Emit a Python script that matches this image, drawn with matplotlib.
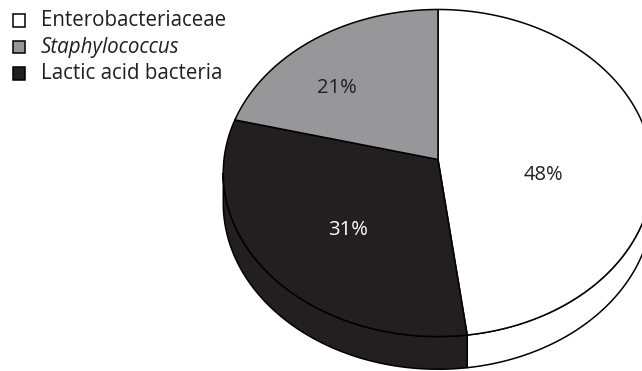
import numpy as np
import matplotlib
matplotlib.use("Agg")
import matplotlib.pyplot as plt
from matplotlib.patches import Polygon, Rectangle

# Data
categories = ["Enterobacteriaceae", "Staphylococcus", "Lactic acid bacteria"]
shares = [48, 21, 31]
colors = ["#ffffff", "#97979a", "#231f20"]
label_colors = ["#231f20", "#231f20", "#ffffff"]
# slices run clockwise from 12 o'clock in this order (indices into the lists above)
slice_order = [0, 2, 1]

plt.rcParams["font.family"] = ["Open Sans", "DejaVu Sans"]

W, H = 642, 371
fig = plt.figure(figsize=(W / 100, H / 100), dpi=100)
ax = fig.add_axes([0, 0, 1, 1])
ax.set_xlim(0, W)
ax.set_ylim(H, 0)
ax.axis("off")

# Perspective view of the pie's top face
cx, cy = 438.0, 159.5     # projected centre
sx, sy = 214.0, 162.4     # horizontal / vertical radii
k = 0.0826                # perspective strength
depth = 30.0              # thickness of the pie


def project(theta_deg, r=1.0):
    th = np.radians(theta_deg)
    u = r * np.sin(th)
    v = -r * np.cos(th)
    w = 1 - k * v
    return cx + sx * u / w, cy + sy * v / w, w


def rim(a0, a1, n=200):
    th = np.linspace(a0, a1, n)
    return project(th)


# Angular extent of each slice (degrees clockwise from top)
total = float(sum(shares))
bounds = {}
start = 0.0
for i in slice_order:
    span = 360.0 * shares[i] / total
    bounds[i] = (start, start + span)
    start += span

# Silhouette extremes, between which the side wall is visible
th_all = np.linspace(0, 360, 7201)
xa, _, _ = project(th_all)
th_right = th_all[np.argmax(xa)]
th_left = th_all[np.argmin(xa)]

lw = 1.1

# Side walls
for i in slice_order:
    a0, a1 = bounds[i]
    lo, hi = max(a0, th_right), min(a1, th_left)
    if hi <= lo:
        continue
    x, y, w = rim(lo, hi)
    yb = y + depth / w
    pts = np.column_stack([np.concatenate([x, x[::-1]]),
                           np.concatenate([y, yb[::-1]])])
    ax.add_patch(Polygon(pts, closed=True, facecolor=colors[i],
                         edgecolor="black", linewidth=lw, joinstyle="round"))

# Top face wedges
for i in slice_order:
    a0, a1 = bounds[i]
    x, y, _ = rim(a0, a1)
    pts = np.column_stack([np.concatenate([[cx], x]),
                           np.concatenate([[cy], y])])
    ax.add_patch(Polygon(pts, closed=True, facecolor=colors[i],
                         edgecolor="black", linewidth=lw, joinstyle="round"))

# Percentage labels, placed at (angle, radius) on the top face
label_pos = {0: (100.9, 0.496), 1: (312.9, 0.668), 2: (223.9, 0.585)}
for i in slice_order:
    lx, ly, _ = project(*label_pos[i])
    ax.text(lx, ly, f"{shares[i]}%", ha="center", va="center",
            fontsize=14.5, color=label_colors[i])

# Legend
row_y = [20.5, 47, 73.5]
for i, name in enumerate(categories):
    ax.add_patch(Rectangle((12.5, row_y[i] - 6.25), 12.5, 12.5, facecolor=colors[i],
                           edgecolor="black", linewidth=1.1))
    ax.text(41, row_y[i], name, ha="left", va="center", fontsize=14.8,
            color="#231f20", fontstyle="italic" if name == "Staphylococcus" else "normal")

fig.savefig("out.png", dpi=100)
